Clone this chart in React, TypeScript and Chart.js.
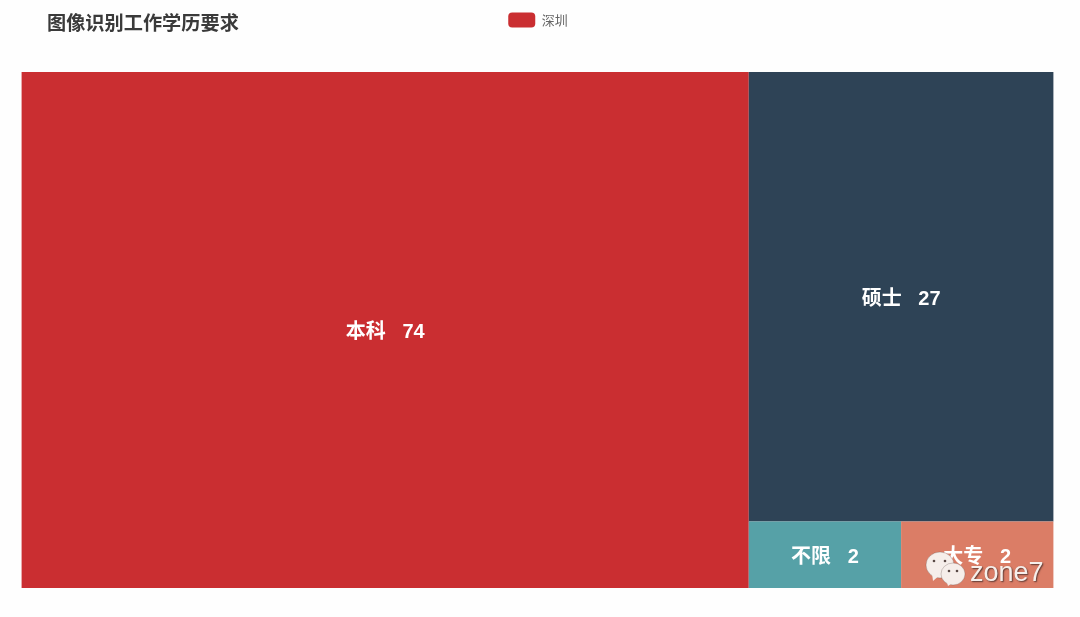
import React, { useEffect, useRef } from "react";
import { Chart, registerables, DatasetController, BarElement } from "chart.js";

Chart.register(...registerables);

const categories = ["本科", "硕士", "不限", "大专"];
const values = [74, 27, 2, 2];
const cellColors = ["#ca2e31", "#2e4356", "#56a1a7", "#db7d66"];
const seriesName = "深圳";
const legendColor = "#ca2e31";
const chartTitle = "图像识别工作学历要求";
const watermark = "zone7";

const total = values.reduce((a, b) => a + b, 0);
const restTotal = values.slice(1).reduce((a, b) => a + b, 0);
const bottomTotal = values.slice(2).reduce((a, b) => a + b, 0);

// Slice layout in data units: largest value takes a full-height column, next
// fills the top of the remaining column, the others share the bottom row.
function cellBounds(i: number) {
  if (i === 0) return { x0: 0, x1: values[0], y0: 0, y1: restTotal };
  if (i === 1) return { x0: values[0], x1: total, y0: 0, y1: values[1] };
  let start = values[0];
  for (let k = 2; k < i; k++) start += (values[k] / bottomTotal) * restTotal;
  return {
    x0: start,
    x1: start + (values[i] / bottomTotal) * restTotal,
    y0: values[1],
    y1: restTotal,
  };
}

class TreemapController extends DatasetController {
  static id = "treemap";
  static defaults = { datasetElementType: false, dataElementType: "bar" };

  update(mode: any) {
    const meta = (this as any)._cachedMeta;
    this.updateElements(meta.data, 0, meta.data.length, mode);
  }

  updateElements(elements: any[], start: number, count: number, mode: any) {
    const meta = (this as any)._cachedMeta;
    const xs = meta.xScale;
    const ys = meta.yScale;
    for (let i = start; i < start + count; i++) {
      const b = cellBounds(i);
      const left = xs.getPixelForValue(b.x0);
      const right = xs.getPixelForValue(b.x1);
      const top = ys.getPixelForValue(b.y0);
      const bottom = ys.getPixelForValue(b.y1);
      (this as any).updateElement(
        elements[i],
        i,
        {
          x: (left + right) / 2,
          width: right - left,
          y: top,
          base: bottom,
          height: bottom - top,
          horizontal: false,
          inflateAmount: 0,
          enableBorderRadius: false,
          borderSkipped: { top: false, left: false, bottom: false, right: false },
          options: (this as any).resolveDataElementOptions(i, mode),
        },
        mode
      );
    }
  }
}
Chart.register(TreemapController as any, BarElement);

const layoutPlugin = {
  id: "placeHeader",
  afterLayout(chart: any) {
    const t = chart.titleBlock;
    t.left = 47;
    t.top = 4.6;
    const l = chart.legend;
    l.left += 0.5;
    l.right += 0.5;
    l.top = 2.5;
  },
};

const cellLabelPlugin = {
  id: "cellLabels",
  afterDatasetsDraw(chart: any) {
    const { ctx } = chart;
    const meta = chart.getDatasetMeta(0);
    ctx.save();
    ctx.textAlign = "center";
    ctx.textBaseline = "middle";
    ctx.fillStyle = "#ffffff";
    ctx.font = 'bold 20px "Liberation Sans", "Noto Sans CJK SC", sans-serif';
    meta.data.forEach((el: any, i: number) => {
      const p = el.getProps(["x", "y", "base"], true);
      ctx.fillText(`${categories[i]}   ${values[i]}`, p.x, (p.y + p.base) / 2 + 2.5);
    });
    ctx.restore();
  },
};

function bubble(ctx: CanvasRenderingContext2D, cx: number, cy: number, rx: number, ry: number, tailX: number, tailY: number) {
  ctx.beginPath();
  ctx.ellipse(cx, cy, rx, ry, 0, 0, Math.PI * 2);
  ctx.fill();
  ctx.stroke();
  ctx.beginPath();
  ctx.moveTo(tailX, tailY);
  ctx.lineTo(cx - rx * 0.6, cy + ry * 0.4);
  ctx.lineTo(cx - rx * 0.1, cy + ry * 0.85);
  ctx.closePath();
  ctx.fill();
}

const watermarkPlugin = {
  id: "watermark",
  afterDraw(chart: any) {
    const { ctx } = chart;
    ctx.save();
    ctx.fillStyle = "#f6eeea";
    ctx.strokeStyle = "rgba(70,50,45,0.35)";
    ctx.lineWidth = 0.7;
    bubble(ctx, 940, 565, 14, 13, 933, 581);
    bubble(ctx, 953, 574, 12, 11, 948, 586);
    ctx.fillStyle = "#5a4a46";
    for (const [x, y] of [[934, 561], [945, 561], [949, 571], [957, 571]]) {
      ctx.beginPath();
      ctx.arc(x, y, 1.3, 0, Math.PI * 2);
      ctx.fill();
    }
    ctx.font = '27px "Liberation Sans", sans-serif';
    ctx.textAlign = "left";
    ctx.textBaseline = "alphabetic";
    ctx.shadowColor = "rgba(40,30,30,0.7)";
    ctx.shadowBlur = 1.5;
    ctx.shadowOffsetX = 1;
    ctx.shadowOffsetY = 1;
    ctx.fillStyle = "#f6efeb";
    ctx.fillText(watermark, 970, 581);
    ctx.restore();
  },
};

export default function App() {
  const ref = useRef<HTMLCanvasElement>(null);
  useEffect(() => {
    document.body.style.margin = "0";
    document.body.style.background = "#fefefe";
    const chart = new Chart(ref.current as any, {
      type: "treemap" as any,
      data: {
        labels: categories,
        datasets: [
          {
            label: seriesName,
            data: values,
            backgroundColor: cellColors,
            borderWidth: 0,
            borderSkipped: false,
          } as any,
        ],
      },
      options: {
        responsive: false,
        animation: false,
        events: [],
        layout: { padding: { left: 21.6, right: 26.6, bottom: 29, top: 0 } },
        scales: {
          x: { type: "linear", display: false, min: 0, max: total },
          y: { type: "linear", display: false, min: 0, max: restTotal, reverse: true },
        },
        plugins: {
          tooltip: { enabled: false },
          title: {
            display: true,
            text: chartTitle,
            align: "start",
            color: "#3a3a3a",
            font: { size: 19.2, weight: "bold", family: '"Noto Sans CJK SC", sans-serif' },
            padding: { top: 7, bottom: 7 },
          },
          legend: {
            display: true,
            position: "top",
            align: "center",
            labels: {
              boxWidth: 27,
              boxHeight: 15,
              padding: 10,
              useBorderRadius: true,
              borderRadius: 4,
              color: "#666666",
              font: { size: 13, family: '"Noto Sans CJK SC", sans-serif' },
              generateLabels: () => [
                {
                  text: seriesName,
                  fillStyle: legendColor,
                  strokeStyle: legendColor,
                  lineWidth: 0,
                  fontColor: "#666666",
                  borderRadius: 4,
                  datasetIndex: 0,
                },
              ],
            },
          },
        },
      } as any,
      plugins: [layoutPlugin, cellLabelPlugin, watermarkPlugin],
    });
    return () => chart.destroy();
  }, []);
  return <canvas ref={ref} width={1080} height={617} style={{ display: "block", width: 1080, height: 617 }} />;
}
